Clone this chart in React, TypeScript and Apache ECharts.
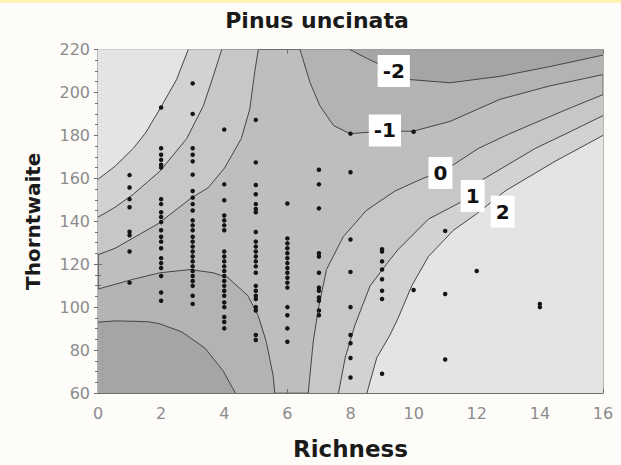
import React, { useEffect, useRef } from "react";
import * as echarts from "echarts";

// ---- Axis ticks ----
const xTicks = [0, 2, 4, 6, 8, 10, 12, 14, 16];
const yTicks = [60, 80, 100, 120, 140, 160, 180, 200, 220];

// ---- Observed sites: richness column and Thornthwaite values ----
const siteRichness = [1, 2, 3, 4, 5, 6, 7, 8, 9, 10, 11, 12, 14];
const siteThornthwaite: number[][] = [
  [161.5, 155.7, 150.3, 146.5, 135.1, 133.5, 125.9, 111.4],
  [193, 174, 171, 168.6, 166.3, 165, 150.3, 148, 144.2, 142, 139.6, 135.8, 132.8, 130.5, 127.4, 122.8, 120.5, 118.2, 114.5, 106.8, 103],
  [204.2, 190, 174, 171, 167.9, 161.7, 154.1, 151, 148, 145, 140.4, 138.1, 135.8, 132.8, 130.5, 128.2, 125.9, 123.6, 121.3, 119, 116.8, 114.5, 112.2, 109.9, 105.3, 101.5],
  [182.7, 157.2, 149.8, 142.7, 140.4, 138.1, 135.8, 125.9, 123.6, 121.3, 119, 116.8, 114.5, 112.2, 109.9, 107.6, 105.3, 102.2, 100, 95.4, 93.1, 90.1],
  [187.2, 167.4, 156.9, 152.6, 148, 145.7, 144.2, 135, 130.5, 128.2, 125.9, 123.6, 121.3, 119, 116, 109.9, 107.6, 105.3, 103.8, 100, 98.4, 87, 84.7],
  [148.3, 132, 129.7, 127.4, 125.1, 122.8, 120.5, 118.2, 116, 113.7, 111.4, 109.1, 100, 96.2, 90.1, 83.9],
  [164, 157.2, 146, 125.1, 123.6, 116, 109.1, 107.6, 104.5, 103, 98.4, 96.2],
  [180.8, 162.8, 131.5, 116.4, 100, 87, 83.2, 76.3, 67.2],
  [127, 125.9, 121.3, 117.5, 113, 107.6, 103.8, 69],
  [181.7, 108],
  [135.5, 106.1, 75.6],
  [116.8],
  [101.5, 100],
];

// ---- Contour lines ([richness, thornthwaite]) ----
const contour2UpperLeft = [[0, 159.5], [0.54, 165.6], [1.12, 174], [1.5, 181], [1.96, 192.3], [2.49, 206], [2.86, 220]];
const contour1UpperLeft = [[0, 141.9], [0.54, 146.5], [1.12, 152.6], [1.96, 163.3], [2.81, 178.5], [3.34, 193.8], [3.65, 207.5], [3.92, 220]];
const contour0UpperLeft = [[0, 124.4], [0.54, 127.4], [1.91, 138.9], [2.97, 151], [3.49, 155.6], [4.01, 164.8], [4.54, 178.5], [4.81, 192.3], [4.97, 210], [5.08, 220]];
const contourM1LowerLeft = [[0, 108.4], [1.12, 113], [1.96, 116], [2.92, 117.5], [3.65, 116], [4.12, 113.7], [4.75, 105.3], [5.07, 96.2], [5.33, 84], [5.55, 68], [5.6, 60]];
const contourM2LowerLeft = [[0, 93], [0.54, 93.6], [1.12, 93.4], [1.59, 93.2], [1.96, 92.2], [2.65, 88.5], [3.39, 80.9], [3.97, 70.2], [4.35, 60]];
const contour0LowerRight = [[6.66, 60], [6.82, 84], [6.98, 99.2], [7.24, 117.5], [7.77, 132.8], [8.5, 145], [9.41, 154.1], [10.3, 160], [10.85, 163], [11.26, 166.3], [12.05, 173.9], [13, 180.5], [14, 186.8], [15, 193], [16, 199]];
const contour1LowerRight = [[7.62, 60], [7.83, 76.3], [8.14, 91.6], [8.62, 109.9], [9.25, 122.1], [9.5, 126.7], [10.47, 141], [11.47, 148.7], [12.2, 159.5], [13.85, 173.9], [15, 182], [16, 189.2]];
const contour2LowerRight = [[8.52, 60], [8.83, 76.3], [9.25, 87], [9.5, 94.6], [9.94, 109.9], [10.47, 123.6], [11.26, 135.8], [11.99, 143.4], [12.35, 147.6], [12.9, 154.1], [14.48, 167.9], [16, 180]];
const contourM1UpperRight = [[6.4, 220], [6.72, 204.5], [7.03, 193.8], [7.46, 184.6], [7.98, 180.8], [9.09, 182], [9.98, 181.9], [11.15, 186.5], [12.74, 196.8], [14.3, 203], [16, 208.3]];
const contourM2UpperRight = [[7.98, 220], [8.5, 216], [9.0, 212.5], [9.88, 206], [11.15, 204.5], [12.74, 207.5], [14.3, 212], [16, 217.4]];

// ---- Contour labels ----
const contourLabelText = ["-2", "-1", "0", "1", "2"];
const contourLabelX = [9.37, 9.09, 10.85, 11.87, 12.82];
const contourLabelY = [210, 182.3, 162.5, 151.8, 144.5];

// ---- Band colours ----
const colAbove2 = "#e4e4e5";
const col1to2 = "#d2d2d2";
const col0to1 = "#c7c7c7";
const colM1to0 = "#bebebe";
const colM2toM1 = "#b3b3b3";
const colBelowM2 = "#a5a5a5";

export default function App() {
  const ref = useRef<HTMLDivElement>(null);

  useEffect(() => {
    if (!ref.current) return;
    const chart = echarts.init(ref.current, undefined, { renderer: "svg" });

    const fillRegions = [
      { line: contourM1LowerLeft, corner: [[0, 60]], color: colM2toM1 },
      { line: contourM2LowerLeft, corner: [[0, 60]], color: colBelowM2 },
      { line: contourM1UpperRight, corner: [[16, 220]], color: colM2toM1 },
      { line: contourM2UpperRight, corner: [[16, 220]], color: colBelowM2 },
      { line: contour0UpperLeft, corner: [[0, 220]], color: col0to1 },
      { line: contour1UpperLeft, corner: [[0, 220]], color: col1to2 },
      { line: contour2UpperLeft, corner: [[0, 220]], color: colAbove2 },
      { line: contour0LowerRight, corner: [[16, 60]], color: col0to1 },
      { line: contour1LowerRight, corner: [[16, 60]], color: col1to2 },
      { line: contour2LowerRight, corner: [[16, 60]], color: colAbove2 },
    ];

    const contourLines = [
      contour2UpperLeft, contour1UpperLeft, contour0UpperLeft,
      contourM1LowerLeft, contourM2LowerLeft,
      contour0LowerRight, contour1LowerRight, contour2LowerRight,
      contourM1UpperRight, contourM2UpperRight,
    ];

    const sitePoints: number[][] = [];
    siteRichness.forEach((r, i) => {
      siteThornthwaite[i].forEach((t) => sitePoints.push([r, t]));
    });

    const labelData = contourLabelText.map((t, i) => [contourLabelX[i], contourLabelY[i], t]);

    const tickColor = "#6e6e6e";
    const labelFont = "DejaVu Sans";

    const option: any = {
      animation: false,
      backgroundColor: "#fdfcf8",
      title: {
        text: "Pinus uncinata",
        left: 317,
        top: 9,
        textAlign: "center",
        padding: 0,
        textStyle: { fontFamily: labelFont, fontWeight: "bold", fontSize: 22, color: "#1a1a1a" },
      },
      graphic: [
        { type: "rect", shape: { x: 0, y: 0, width: 621, height: 3 }, style: { fill: "#fcf3b4" }, silent: true },
      ],
      grid: {
        left: 98,
        right: 18,
        top: 49.5,
        bottom: 66,
        show: true,
        backgroundColor: colM1to0,
        borderColor: tickColor,
        borderWidth: 1,
      },
      xAxis: [
        {
          type: "value",
          min: 0,
          max: 16,
          interval: 2,
          name: "Richness",
          nameLocation: "middle",
          nameGap: 44,
          nameTextStyle: { fontFamily: labelFont, fontWeight: "bold", fontSize: 23, color: "#1a1a1a" },
          axisLine: { show: true, lineStyle: { color: tickColor } },
          axisTick: { show: true, inside: true, length: 4, lineStyle: { color: tickColor } },
          minorTick: { show: true, splitNumber: 2, length: 3, lineStyle: { color: tickColor } },
          splitLine: { show: false },
          axisLabel: {
            margin: 12,
            fontFamily: labelFont,
            fontSize: 16,
            color: "#8c8c8c",
            formatter: (v: number) => (xTicks.includes(v) ? String(v) : ""),
          },
        },
        {
          type: "value",
          position: "top",
          min: 0,
          max: 16,
          interval: 2,
          axisLine: { show: false },
          axisTick: { show: true, inside: true, length: 4, lineStyle: { color: tickColor } },
          minorTick: { show: true, splitNumber: 2, length: 3, lineStyle: { color: tickColor } },
          splitLine: { show: false },
          axisLabel: { show: false },
        },
      ],
      yAxis: [
        {
          type: "value",
          min: 60,
          max: 220,
          interval: 20,
          name: "Thorntwaite",
          nameLocation: "middle",
          nameGap: 55,
          nameTextStyle: { fontFamily: labelFont, fontWeight: "bold", fontSize: 20, color: "#1a1a1a" },
          axisLine: { show: true, lineStyle: { color: tickColor } },
          axisTick: { show: true, inside: true, length: 4, lineStyle: { color: tickColor } },
          minorTick: { show: true, splitNumber: 4, length: 3, lineStyle: { color: tickColor } },
          splitLine: { show: false },
          axisLabel: {
            margin: 8,
            fontFamily: labelFont,
            fontSize: 16,
            color: "#8c8c8c",
            formatter: (v: number) => (yTicks.includes(v) ? String(v) : ""),
          },
        },
        {
          type: "value",
          position: "right",
          min: 60,
          max: 220,
          interval: 20,
          axisLine: { show: false },
          axisTick: { show: true, inside: true, length: 4, lineStyle: { color: tickColor } },
          minorTick: { show: true, splitNumber: 4, length: 3, lineStyle: { color: tickColor } },
          splitLine: { show: false },
          axisLabel: { show: false },
        },
      ],
      series: [
        {
          type: "custom",
          silent: true,
          z: 1,
          xAxisIndex: 0,
          yAxisIndex: 0,
          data: fillRegions.map((_, i) => [i, 100]),
          renderItem: (params: any, api: any) => {
            const r = fillRegions[params.dataIndex];
            const pts = [...r.line, ...r.corner].map((p) => api.coord(p));
            return {
              type: "polygon",
              shape: { points: pts },
              style: { fill: r.color, stroke: null },
            };
          },
        },
        ...contourLines.map((line) => ({
          type: "line",
          silent: true,
          z: 2,
          xAxisIndex: 0,
          yAxisIndex: 0,
          data: line,
          showSymbol: false,
          symbol: "none",
          lineStyle: { color: "#454545", width: 1 },
        })),
        {
          type: "scatter",
          silent: true,
          z: 3,
          xAxisIndex: 0,
          yAxisIndex: 0,
          data: sitePoints,
          symbol: "circle",
          symbolSize: 4.5,
          itemStyle: { color: "#151515", opacity: 1 },
        },
        {
          type: "scatter",
          silent: true,
          z: 4,
          xAxisIndex: 0,
          yAxisIndex: 0,
          data: labelData,
          symbolSize: 1,
          itemStyle: { color: "#ffffff", opacity: 1 },
          label: {
            show: true,
            position: "inside",
            formatter: (p: any) => p.value[2],
            backgroundColor: "#ffffff",
            padding: [5, 5, 5, 5],
            fontFamily: labelFont,
            fontWeight: "bold",
            fontSize: 20,
            lineHeight: 22,
            color: "#111111",
            opacity: 1,
          },
        },
      ],
    };

    chart.setOption(option);
    return () => chart.dispose();
  }, []);

  return (
    <div
      ref={ref}
      style={{ position: "fixed", left: 0, top: 0, width: 621, height: 465 }}
    />
  );
}
